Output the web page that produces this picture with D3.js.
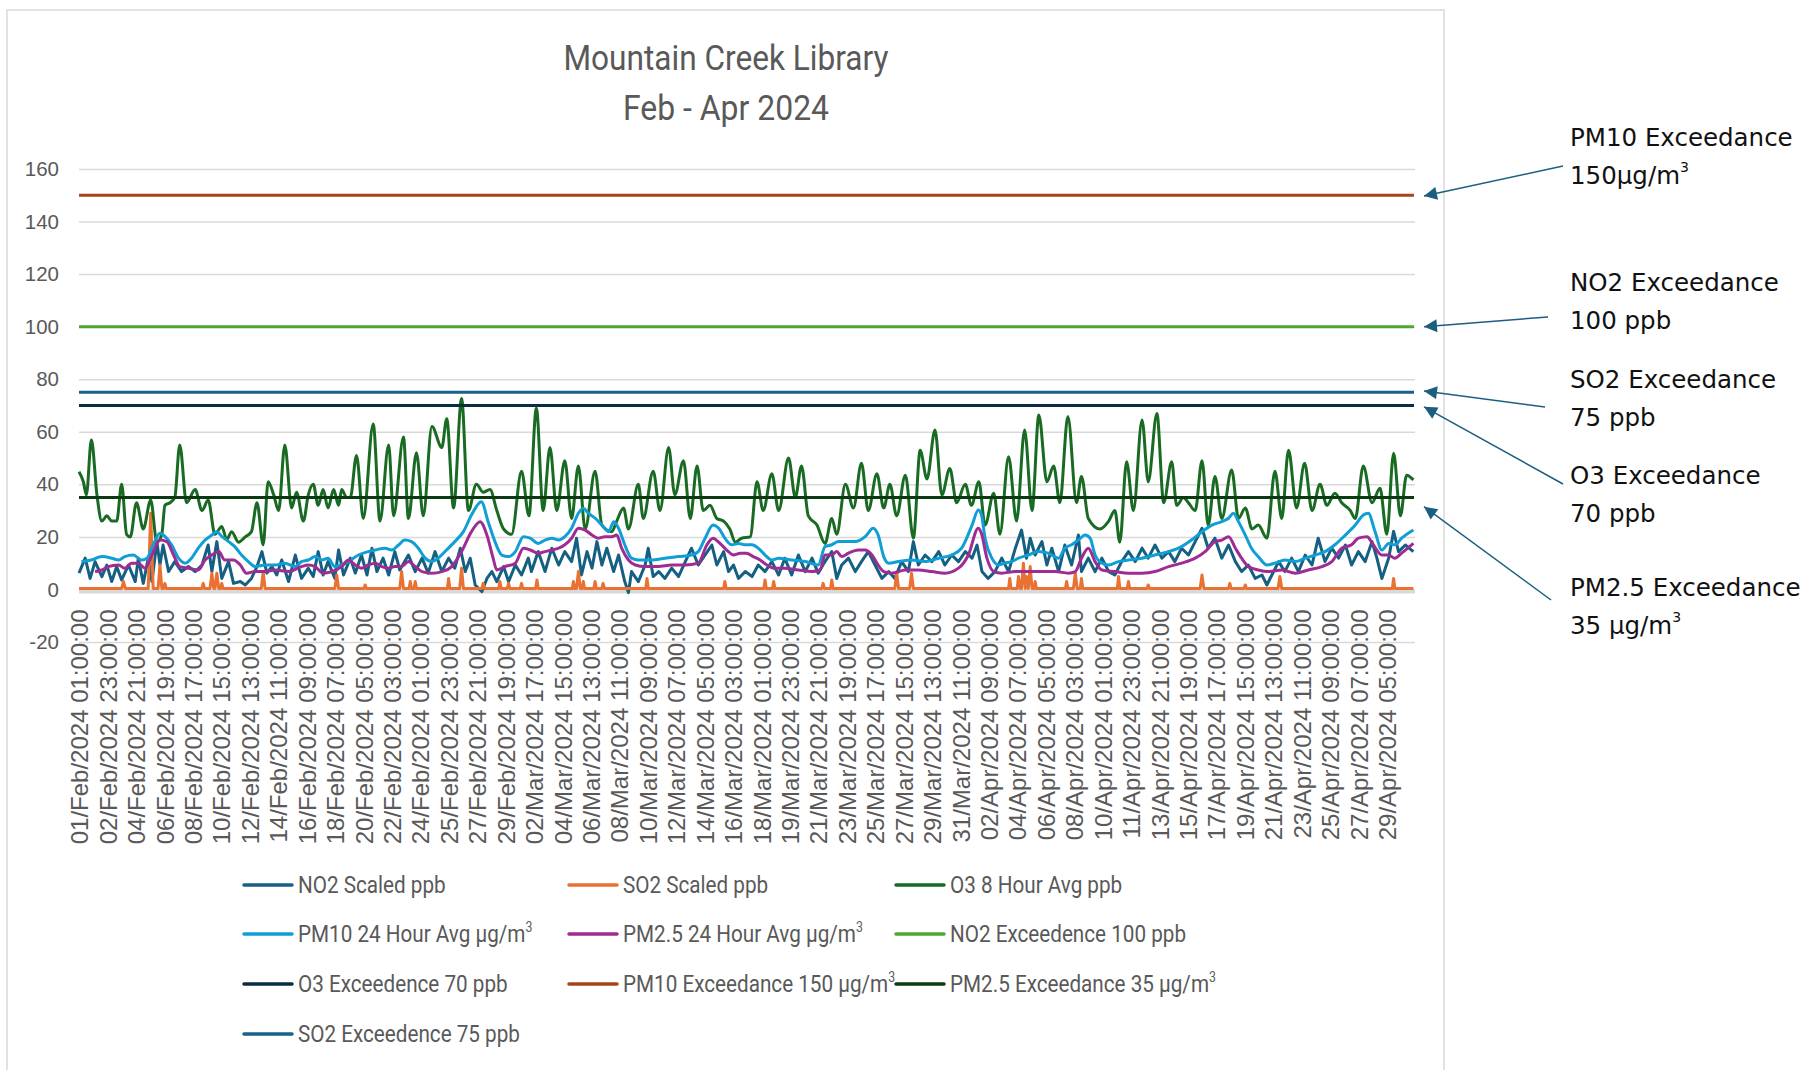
<!DOCTYPE html>
<html>
<head>
<meta charset="utf-8">
<script src="https://cdn.jsdelivr.net/npm/d3@7"></script>
<style>
  body { margin: 0; background: #fff; }
</style>
</head>
<body>
<div id="chart"></div>
<script>
// Hour index 0 = 01/Feb/2024 01:00, hourly to end of April (2160 points).
var hourCount = 2160;

var xLabels = [
  "01/Feb/2024 01:00:00", "02/Feb/2024 23:00:00", "04/Feb/2024 21:00:00", "06/Feb/2024 19:00:00",
  "08/Feb/2024 17:00:00", "10/Feb/2024 15:00:00", "12/Feb/2024 13:00:00", "14/Feb/2024 11:00:00",
  "16/Feb/2024 09:00:00", "18/Feb/2024 07:00:00", "20/Feb/2024 05:00:00", "22/Feb/2024 03:00:00",
  "24/Feb/2024 01:00:00", "25/Feb/2024 23:00:00", "27/Feb/2024 21:00:00", "29/Feb/2024 19:00:00",
  "02/Mar/2024 17:00:00", "04/Mar/2024 15:00:00", "06/Mar/2024 13:00:00", "08/Mar/2024 11:00:00",
  "10/Mar/2024 09:00:00", "12/Mar/2024 07:00:00", "14/Mar/2024 05:00:00", "16/Mar/2024 03:00:00",
  "18/Mar/2024 01:00:00", "19/Mar/2024 23:00:00", "21/Mar/2024 21:00:00", "23/Mar/2024 19:00:00",
  "25/Mar/2024 17:00:00", "27/Mar/2024 15:00:00", "29/Mar/2024 13:00:00", "31/Mar/2024 11:00:00",
  "02/Apr/2024 09:00:00", "04/Apr/2024 07:00:00", "06/Apr/2024 05:00:00", "08/Apr/2024 03:00:00",
  "10/Apr/2024 01:00:00", "11/Apr/2024 23:00:00", "13/Apr/2024 21:00:00", "15/Apr/2024 19:00:00",
  "17/Apr/2024 17:00:00", "19/Apr/2024 15:00:00", "21/Apr/2024 13:00:00", "23/Apr/2024 11:00:00",
  "25/Apr/2024 09:00:00", "27/Apr/2024 07:00:00", "29/Apr/2024 05:00:00"
];
var labelStep = 46; // one label every 46 hours

var yTicks = [-20, 0, 20, 40, 60, 80, 100, 120, 140, 160];

// Series as [hour, value] vertices.
var no2Scaled = [[0,6.2],[10,11.9],[18,4.2],[26,10.6],[37,4.9],[45,9.3],[53,3],[61,8.7],[69,3.6],[80,9.3],[91,3],[96,11.9],[104,2.3],[112,11.9],[118,3],[126,18.2],[131,9.3],[136,16.9],[145,6.8],[155,10.6],[166,6.8],[177,8.7],[188,6.8],[199,9.3],[209,16.9],[215,6.8],[223,18.2],[231,4.2],[242,10.6],[250,2.3],[261,3],[269,1.7],[279,4.2],[288,8.7],[296,14.4],[304,6.2],[312,8.7],[320,5.5],[328,11.2],[339,3],[350,13.1],[360,4.2],[371,8.1],[379,4.9],[387,14.4],[395,5.5],[403,10.6],[414,4.2],[420,15],[428,5.5],[439,11.9],[447,6.2],[457,13.1],[466,5.5],[474,15.7],[482,6.8],[492,11.9],[501,5.5],[511,14.4],[519,7.4],[533,13.1],[544,6.8],[555,11.9],[565,6.2],[576,14.4],[587,6.8],[598,11.9],[608,8.1],[617,15.7],[625,6.8],[633,11.9],[641,1.7],[652,-0.8],[660,4.2],[668,6.8],[676,3],[687,8.7],[695,3],[706,9.3],[716,5.5],[727,11.9],[732,6.8],[743,14.4],[754,6.8],[765,15.7],[776,9.3],[786,14.4],[797,10.6],[805,19.5],[813,5.5],[822,14.4],[830,8.1],[838,18.2],[846,9.3],[854,15.7],[865,6.8],[873,13.1],[883,3],[889,-1.2],[894,6.8],[905,3],[916,9.3],[921,15.7],[929,4.9],[938,6.8],[948,4.2],[959,8.1],[970,4.9],[981,10.6],[991,15.7],[1002,9.3],[1013,13.1],[1024,16.9],[1032,9.3],[1043,14.4],[1051,6.8],[1059,9.3],[1067,4.2],[1078,6.8],[1089,4.9],[1099,9.3],[1110,6.8],[1121,10.6],[1132,5.5],[1142,11.9],[1153,5.5],[1164,13.1],[1175,6.8],[1186,11.9],[1196,6.2],[1207,10.6],[1218,14.4],[1226,4.2],[1234,9.3],[1245,11.9],[1256,6.8],[1266,10.6],[1277,14.4],[1288,9.3],[1299,4.2],[1310,6.8],[1320,4.2],[1331,10.6],[1342,6.8],[1350,18.2],[1358,9.3],[1369,13.1],[1380,10.6],[1391,14.4],[1401,9.3],[1412,13.1],[1423,10.6],[1434,14.4],[1445,11.9],[1453,16.9],[1461,6.8],[1471,4.2],[1482,6.8],[1493,11.9],[1504,6.8],[1515,15.7],[1525,22.6],[1533,11.9],[1539,19.5],[1547,13.1],[1558,18.2],[1566,9.3],[1574,15.7],[1585,6.8],[1595,16.9],[1606,9.3],[1617,20.7],[1622,6.8],[1633,11.9],[1644,6.8],[1655,11.9],[1666,6.8],[1676,5.5],[1687,10.6],[1698,14.4],[1709,10.6],[1720,15.7],[1730,11.9],[1741,16.9],[1752,11.9],[1763,14.4],[1773,10.6],[1784,15.7],[1795,13.1],[1806,18.2],[1817,23.3],[1827,15.7],[1838,19.5],[1849,11.9],[1860,16.9],[1871,10.6],[1881,6.8],[1892,9.3],[1903,4.2],[1914,5.5],[1922,1.7],[1930,5.5],[1941,10.6],[1951,6.8],[1962,11.9],[1973,6.8],[1984,13.1],[1995,9.3],[2005,19.5],[2016,10.6],[2027,15.7],[2038,11.9],[2049,16.9],[2059,9.3],[2070,14.4],[2081,10.6],[2092,18.2],[2100,11.9],[2108,4.2],[2119,11.9],[2127,22.1],[2135,14.4],[2146,16.9],[2159,14.4]];

var so2Scaled = [[0,0.4],[69,0.4],[72,3],[75,0.4],[112,0.4],[116,29],[120,0.4],[128,0.4],[131,9.3],[134,0.4],[137,0.4],[139,2.3],[141,0.4],[199,0.4],[201,2.3],[203,0.4],[212,0.4],[215,6.2],[218,0.4],[220,0.4],[223,6.2],[226,0.4],[229,0.4],[231,2.3],[233,0.4],[295,0.4],[298,6.8],[301,0.4],[414,0.4],[417,5.5],[420,0.4],[461,0.4],[463,1.7],[465,0.4],[519,0.4],[522,6.8],[525,0.4],[534,0.4],[536,3],[538,0.4],[542,0.4],[544,3],[546,0.4],[596,0.4],[598,4.2],[600,0.4],[616,0.4],[619,8.1],[622,0.4],[652,0.4],[654,2.3],[656,0.4],[679,0.4],[681,3],[683,0.4],[693,0.4],[695,2.3],[697,0.4],[714,0.4],[716,2.3],[718,0.4],[739,0.4],[741,3.6],[743,0.4],[798,0.4],[800,3],[802,0.4],[805,0.4],[808,6.8],[811,0.4],[814,0.4],[816,3],[818,0.4],[833,0.4],[835,3],[837,0.4],[846,0.4],[848,2.3],[850,0.4],[917,0.4],[919,4.2],[921,0.4],[1043,0.4],[1045,3],[1047,0.4],[1108,0.4],[1110,3.6],[1112,0.4],[1122,0.4],[1124,3],[1126,0.4],[1202,0.4],[1204,2.3],[1206,0.4],[1216,0.4],[1218,3.6],[1220,0.4],[1320,0.4],[1323,6.2],[1326,0.4],[1344,0.4],[1347,6.2],[1350,0.4],[1504,0.4],[1506,4.2],[1508,0.4],[1518,0.4],[1520,4.9],[1523,0.4],[1525,0.4],[1528,10],[1531,0.4],[1533,4.9],[1536,0.4],[1539,8.7],[1542,0.4],[1545,0.4],[1547,3],[1549,0.4],[1596,0.4],[1598,3],[1600,0.4],[1609,0.4],[1612,6.2],[1615,0.4],[1620,0.4],[1622,4.2],[1624,0.4],[1680,0.4],[1682,4.9],[1684,0.4],[1696,0.4],[1698,3],[1700,0.4],[1728,0.4],[1730,1.7],[1732,0.4],[1814,0.4],[1817,5.5],[1820,0.4],[1860,0.4],[1862,2.3],[1864,0.4],[1885,0.4],[1887,1.7],[1889,0.4],[1940,0.4],[1943,4.9],[1946,0.4],[2125,0.4],[2127,4.2],[2129,0.4],[2159,0.4]];

var o3Avg = [[0,44.8],[7,41],[12,36],[20,57],[29,36],[37,26],[45,28],[53,26],[61,26],[69,40],[77,21],[83,20],[93,33],[104,23],[116,34],[126,18],[134,21],[139,32],[147,33],[155,35],[163,55],[174,33],[188,38],[199,30],[209,34],[220,21],[231,24],[239,19],[247,22],[258,18],[269,20],[279,22],[288,33],[298,17],[306,41],[315,36],[323,30],[333,55],[344,31],[352,37],[363,26],[371,36],[379,40],[387,32],[395,38],[403,31],[412,38],[420,32],[425,38],[433,35],[439,35],[449,51],[460,27],[476,63],[487,26],[501,55],[509,28],[525,58],[533,27],[546,52],[557,28],[571,62],[587,54],[595,65],[606,31],[619,72.7],[630,30],[643,40],[654,37],[665,38],[676,30],[687,23],[700,21],[716,45],[728,28],[740,69],[751,30],[762,54],[773,30],[786,49],[797,27],[808,47],[819,23],[835,45],[846,24.5],[862,22],[870,26],[881,31],[889,23],[905,40],[913,27],[929,45],[940,30],[954,54],[964,36],[978,49],[989,27],[1000,47],[1010,30],[1021,32],[1032,27],[1043,26],[1053,23],[1062,18],[1072,19.5],[1086,20],[1097,41],[1107,30],[1121,44],[1132,30],[1148,50],[1159,35],[1169,47],[1180,28],[1194,24.5],[1207,17.5],[1218,27],[1226,21],[1240,40],[1253,31],[1266,48],[1277,30],[1291,44],[1302,31],[1312,40],[1323,28],[1337,43.5],[1350,19.5],[1361,53],[1372,42],[1385,60.7],[1396,36],[1409,46],[1420,33],[1434,40],[1444,32],[1456,41],[1466,24.5],[1480,36.6],[1490,21],[1504,50.5],[1517,26],[1530,60.7],[1542,30],[1553,66.4],[1566,41],[1577,47],[1587,33],[1600,65.8],[1614,33],[1622,43],[1633,27],[1652,23],[1666,26],[1676,30],[1684,18],[1695,48.6],[1706,30],[1720,64.5],[1730,41],[1744,67],[1755,33],[1768,48.6],[1776,32],[1787,35],[1795,33],[1806,30],[1817,49],[1827,24.5],[1838,43],[1849,27],[1865,45.5],[1876,27],[1887,31],[1898,23],[1908,24.5],[1922,19.5],[1935,45],[1946,27],[1957,53],[1970,31],[1983,48],[1995,30],[2008,40],[2019,32],[2032,36.6],[2043,33],[2057,30],[2065,27],[2078,47],[2092,33],[2105,38.5],[2116,21],[2127,51.8],[2138,28],[2148,43.5],[2159,41.7]];

var pm10Avg = [[4,10.6],[20,11.2],[37,12.5],[53,11.9],[64,11.2],[74,12.5],[88,13.1],[101,11.2],[110,11.9],[120,16.9],[131,21.4],[139,20.2],[150,16.9],[161,11.9],[172,10],[182,11.9],[193,15.7],[204,18.8],[215,20.7],[223,22],[231,20.2],[242,18.2],[252,16.3],[263,13.1],[274,10.6],[285,8.7],[301,9.3],[317,9.3],[333,10],[350,8.7],[360,10.6],[371,11.2],[382,12.5],[393,11.2],[403,11.9],[414,8.7],[425,9.3],[436,10.6],[452,13.1],[468,14.4],[479,15],[495,15.7],[506,15],[517,16.9],[527,18.8],[538,18.2],[549,15.7],[560,11.9],[571,10.6],[581,11.9],[592,14.4],[608,18.2],[622,22],[635,28.3],[651,33.4],[662,25.8],[673,18.2],[684,13.1],[695,12.5],[706,14.4],[719,20.1],[730,19.5],[743,17.5],[754,18.8],[765,19.5],[776,18.8],[786,20.1],[797,23.3],[808,29],[816,30.9],[824,29],[835,27.1],[846,24.5],[857,22],[865,25.8],[873,23.3],[883,17],[894,11.9],[905,11.2],[927,11.2],[948,11.9],[970,12.5],[991,13.1],[1002,14.4],[1013,19.5],[1026,24.5],[1035,23.3],[1045,19.5],[1056,17],[1067,17.5],[1078,17],[1089,17],[1099,15.7],[1110,13.1],[1121,11.2],[1132,11.9],[1153,11.2],[1175,10.6],[1196,9.3],[1207,16.3],[1218,17],[1229,18.2],[1240,18.2],[1256,18.2],[1272,20.1],[1285,23.3],[1293,20.7],[1302,12.5],[1310,10],[1326,10.6],[1347,11.2],[1369,10.6],[1391,11.9],[1412,13.1],[1428,15.7],[1445,24.5],[1455,30.2],[1460,28.5],[1466,19.5],[1477,11.9],[1488,9.3],[1498,10],[1509,10.6],[1520,11.9],[1536,13.1],[1552,14.4],[1568,13.8],[1585,11.9],[1595,15.7],[1606,17],[1617,18.8],[1628,20.7],[1636,19.5],[1644,13.1],[1655,10],[1666,9.3],[1682,10.6],[1698,11.2],[1720,11.9],[1741,13.1],[1763,14.4],[1784,16.3],[1800,18.8],[1817,22],[1833,24.5],[1849,25.8],[1860,27.1],[1868,29],[1876,25.8],[1887,20.7],[1897,15.7],[1908,12.5],[1922,9.3],[1935,10],[1951,11.2],[1968,10.6],[1984,11.9],[2000,13.1],[2016,14.4],[2032,17],[2049,20.7],[2065,24.5],[2078,28.3],[2086,29],[2097,22],[2108,15],[2119,17.5],[2129,17],[2140,19.5],[2159,22.6]];

var pm25Avg = [[26,6.8],[37,7.4],[47,8.7],[64,9.3],[74,8.1],[85,10],[96,10],[107,8.1],[118,13.1],[131,18.8],[142,18.2],[153,13.1],[163,8.7],[177,8.1],[193,7.4],[204,11.2],[215,13.1],[226,14.4],[236,11.2],[250,11.2],[261,9.3],[271,6.2],[285,6.8],[301,6.8],[317,7.4],[339,6.8],[360,8.7],[371,9.3],[382,8.7],[395,6.2],[409,6.8],[425,8.7],[436,11.2],[447,9.3],[457,8.1],[468,9.3],[479,10],[490,8.7],[501,8.1],[511,8.7],[522,8.7],[533,10.6],[544,8.7],[555,6.8],[571,6.2],[587,6.8],[603,8.7],[619,14.4],[635,22],[649,25.8],[660,20.7],[670,11.9],[676,7.4],[689,8.7],[706,10],[719,15.7],[730,15],[743,13.8],[754,14.4],[765,15],[776,15.7],[786,17],[797,19.5],[808,23.3],[819,22.6],[830,20.7],[840,19.5],[851,20.1],[862,20.1],[870,20.7],[878,15.7],[889,11.2],[900,9.3],[916,8.7],[937,8.7],[959,9.3],[981,9.3],[1002,10],[1016,17],[1026,19.5],[1037,17.5],[1048,15],[1059,13.1],[1070,13.8],[1080,13.8],[1091,12.5],[1102,11.2],[1113,9.3],[1124,8.1],[1142,8.1],[1164,7.4],[1186,6.8],[1199,7.4],[1207,13.1],[1218,13.1],[1226,14.4],[1234,12.5],[1245,13.8],[1261,15],[1272,15],[1283,13.1],[1293,9.3],[1302,6.8],[1315,6.2],[1337,7.4],[1358,7.4],[1380,6.8],[1401,6.2],[1423,8.1],[1439,13.1],[1455,23.3],[1460,21.4],[1469,11.9],[1480,6.8],[1493,6.2],[1515,6.8],[1536,6.8],[1558,6.8],[1579,6.8],[1601,6.2],[1612,6.8],[1622,11.9],[1633,15.7],[1644,10.6],[1655,7.4],[1676,6.8],[1698,6.2],[1720,6.2],[1741,6.8],[1763,8.7],[1784,10],[1806,11.9],[1822,14.4],[1838,18.2],[1849,18.8],[1860,20.1],[1871,15.7],[1881,11.9],[1892,8.7],[1908,7.4],[1924,6.8],[1946,7.4],[1968,6.2],[1989,7.4],[2011,8.7],[2027,10.6],[2043,15.7],[2059,17],[2070,19.5],[2084,20.1],[2094,17],[2108,13.1],[2119,13.1],[2129,11.9],[2140,13.8],[2159,17.5]];

// Exceedance limits
var no2Limit = 100;
var o3Limit = 70;
var pm10Limit = 150;
var pm25Limit = 35;
var so2Limit = 75;

var series = [
  { name: ["NO2 Scaled ppb"], data: no2Scaled, color: "#156082", curve: d3.curveLinear },
  { name: ["SO2 Scaled ppb"], data: so2Scaled, color: "#E97132", curve: d3.curveLinear },
  { name: ["O3 8 Hour Avg ppb"], data: o3Avg, color: "#196B24", curve: d3.curveMonotoneX },
  { name: ["PM10 24 Hour Avg µg/m", "3"], data: pm10Avg, color: "#0F9ED5", curve: d3.curveMonotoneX },
  { name: ["PM2.5 24 Hour Avg µg/m", "3"], data: pm25Avg, color: "#A02B93", curve: d3.curveMonotoneX },
  { name: ["NO2 Exceedence 100 ppb"], data: [[0, no2Limit], [hourCount, no2Limit]], color: "#4EA72E", curve: d3.curveLinear },
  { name: ["O3 Exceedence 70 ppb"], data: [[0, o3Limit], [hourCount, o3Limit]], color: "#0B2D43", curve: d3.curveLinear },
  { name: ["PM10 Exceedance 150 µg/m", "3"], data: [[0, pm10Limit], [hourCount, pm10Limit]], color: "#A5461A", curve: d3.curveLinear },
  { name: ["PM2.5 Exceedance 35 µg/m", "3"], data: [[0, pm25Limit], [hourCount, pm25Limit]], color: "#0B3A12", curve: d3.curveLinear },
  { name: ["SO2 Exceedence 75 ppb"], data: [[0, so2Limit], [hourCount, so2Limit]], color: "#17628A", curve: d3.curveLinear }
];

// Callouts on the right: text lines, arrow start, value the arrow points at
var callouts = [
  { lines: [["PM10 Exceedance"], ["150µg/m", "3"]], pointAt: pm10Limit - 0.3, y0: 146, from: [1563, 166] },
  { lines: [["NO2 Exceedance"], ["100 ppb"]], pointAt: no2Limit, y0: 291, from: [1548, 317] },
  { lines: [["SO2 Exceedance"], ["75 ppb"]], pointAt: so2Limit + 0.5, y0: 388, from: [1545, 407] },
  { lines: [["O3 Exceedance"], ["70 ppb"]], pointAt: o3Limit - 0.5, y0: 484, from: [1563, 484] },
  { lines: [["PM2.5 Exceedance"], ["35 µg/m", "3"]], pointAt: 31.5, y0: 596, from: [1551, 600] }
];

// Layout
var svgWidth = 1815;
var svgHeight = 1070;
var plot = { left: 79, right: 1414, top: 169, bottom: 642 };
var textGrey = "#595959";
var narrowFont = "Roboto, 'Liberation Sans', sans-serif";

var svg = d3.select("#chart")
  .append("svg")
  .attr("width", svgWidth)
  .attr("height", svgHeight)
  .style("display", "block");

svg.append("rect")
  .attr("x", 7).attr("y", 10)
  .attr("width", 1437).attr("height", 1100)
  .attr("fill", "#fff")
  .attr("stroke", "#d9d9d9")
  .attr("stroke-width", 1.5);

var x = d3.scaleLinear().domain([0, hourCount]).range([plot.left, plot.right]);
var y = d3.scaleLinear().domain([-20, 160]).range([plot.bottom, plot.top]);

// Title
var title = svg.append("text")
  .attr("font-family", narrowFont)
  .attr("text-anchor", "middle")
  .attr("fill", textGrey)
  .attr("font-size", 35);
title.append("tspan").attr("x", 726).attr("y", 70)
  .attr("textLength", 325).attr("lengthAdjust", "spacingAndGlyphs")
  .text("Mountain Creek Library");
title.append("tspan").attr("x", 726).attr("y", 120)
  .attr("textLength", 206).attr("lengthAdjust", "spacingAndGlyphs")
  .text("Feb - Apr 2024");

// Gridlines and y labels
var yAxis = d3.axisLeft(y)
  .tickValues(yTicks)
  .tickSize(-(plot.right - plot.left + 1))
  .tickPadding(20)
  .tickFormat(d => String(d));

var yG = svg.append("g")
  .attr("transform", `translate(${plot.left}, 0)`)
  .call(yAxis);
yG.select(".domain").remove();
yG.selectAll(".tick line").attr("stroke", "#d9d9d9").attr("stroke-width", 1.5);
yG.selectAll(".tick text")
  .attr("fill", textGrey)
  .attr("font-family", "Liberation Sans, Arial, sans-serif")
  .attr("font-size", 20.5);

// category axis line at zero
svg.append("line")
  .attr("x1", plot.left).attr("x2", plot.right + 1)
  .attr("y1", y(0) + 2).attr("y2", y(0) + 2)
  .attr("stroke", "#d9d9d9")
  .attr("stroke-width", 4);

// x labels
var xAxis = d3.axisBottom(x)
  .tickValues(xLabels.map((d, i) => i * labelStep + 0.5))
  .tickSize(0)
  .tickFormat((d, i) => xLabels[i]);

var xG = svg.append("g")
  .attr("transform", `translate(0, ${y(0)})`)
  .call(xAxis);
xG.select(".domain").remove();
xG.selectAll(".tick text")
  .attr("fill", textGrey)
  .attr("font-family", "Liberation Sans, Arial, sans-serif")
  .attr("font-size", 24)
  .attr("text-anchor", "end")
  .attr("transform", "rotate(-90)")
  .attr("x", -20)
  .attr("y", 0)
  .attr("dy", "0.35em");

// Lines
var line = d3.line()
  .x(d => x(d[0]))
  .y(d => y(d[1]));

svg.append("g")
  .selectAll("path")
  .data(series)
  .enter()
  .append("path")
  .attr("d", d => line.curve(d.curve)(d.data))
  .attr("fill", "none")
  .attr("stroke", d => d.color)
  .attr("stroke-width", 3)
  .attr("stroke-linejoin", "round")
  .attr("stroke-linecap", "butt");

// Legend
var legendCols = [244, 569, 896];
var legendRows = [885, 934, 984, 1034];

var legend = svg.append("g")
  .selectAll("g")
  .data(series)
  .enter()
  .append("g")
  .attr("transform", (d, i) => `translate(${legendCols[i % 3]}, ${legendRows[Math.floor(i / 3)]})`);

legend.append("line")
  .attr("x1", 0).attr("x2", 48)
  .attr("stroke", d => d.color)
  .attr("stroke-width", 3.5)
  .attr("stroke-linecap", "round");

var legendText = legend.append("text")
  .attr("transform", "translate(54, 8) scale(0.88, 1)")
  .attr("font-family", narrowFont)
  .attr("fill", textGrey)
  .attr("font-size", 23.5);
legendText.append("tspan").text(d => d.name[0]);
legendText.filter(d => d.name.length > 1)
  .append("tspan")
  .attr("font-size", 14)
  .attr("dy", -10)
  .text(d => d.name[1]);

// Callouts
svg.append("defs").append("marker")
  .attr("id", "arrow")
  .attr("viewBox", "0 0 10 10")
  .attr("refX", 10).attr("refY", 5)
  .attr("markerWidth", 17).attr("markerHeight", 13)
  .attr("markerUnits", "userSpaceOnUse")
  .attr("orient", "auto")
  .append("path")
  .attr("d", "M0,0 L10,5 L0,10 Z")
  .attr("fill", "#1C5E80");

callouts.forEach(c => {
  svg.append("line")
    .attr("x1", c.from[0]).attr("y1", c.from[1])
    .attr("x2", 1424).attr("y2", y(c.pointAt))
    .attr("stroke", "#1C5E80")
    .attr("stroke-width", 1.5)
    .attr("marker-end", "url(#arrow)");

  var t = svg.append("text")
    .attr("font-family", "DejaVu Sans, sans-serif")
    .attr("font-size", 24.5)
    .attr("fill", "#111");
  c.lines.forEach((ln, j) => {
    t.append("tspan").attr("x", 1570).attr("y", c.y0 + j * 38).text(ln[0]);
    if (ln.length > 1) {
      t.append("tspan").attr("font-size", 14).attr("dy", -12).text(ln[1]);
    }
  });
});
</script>
</body>
</html>
